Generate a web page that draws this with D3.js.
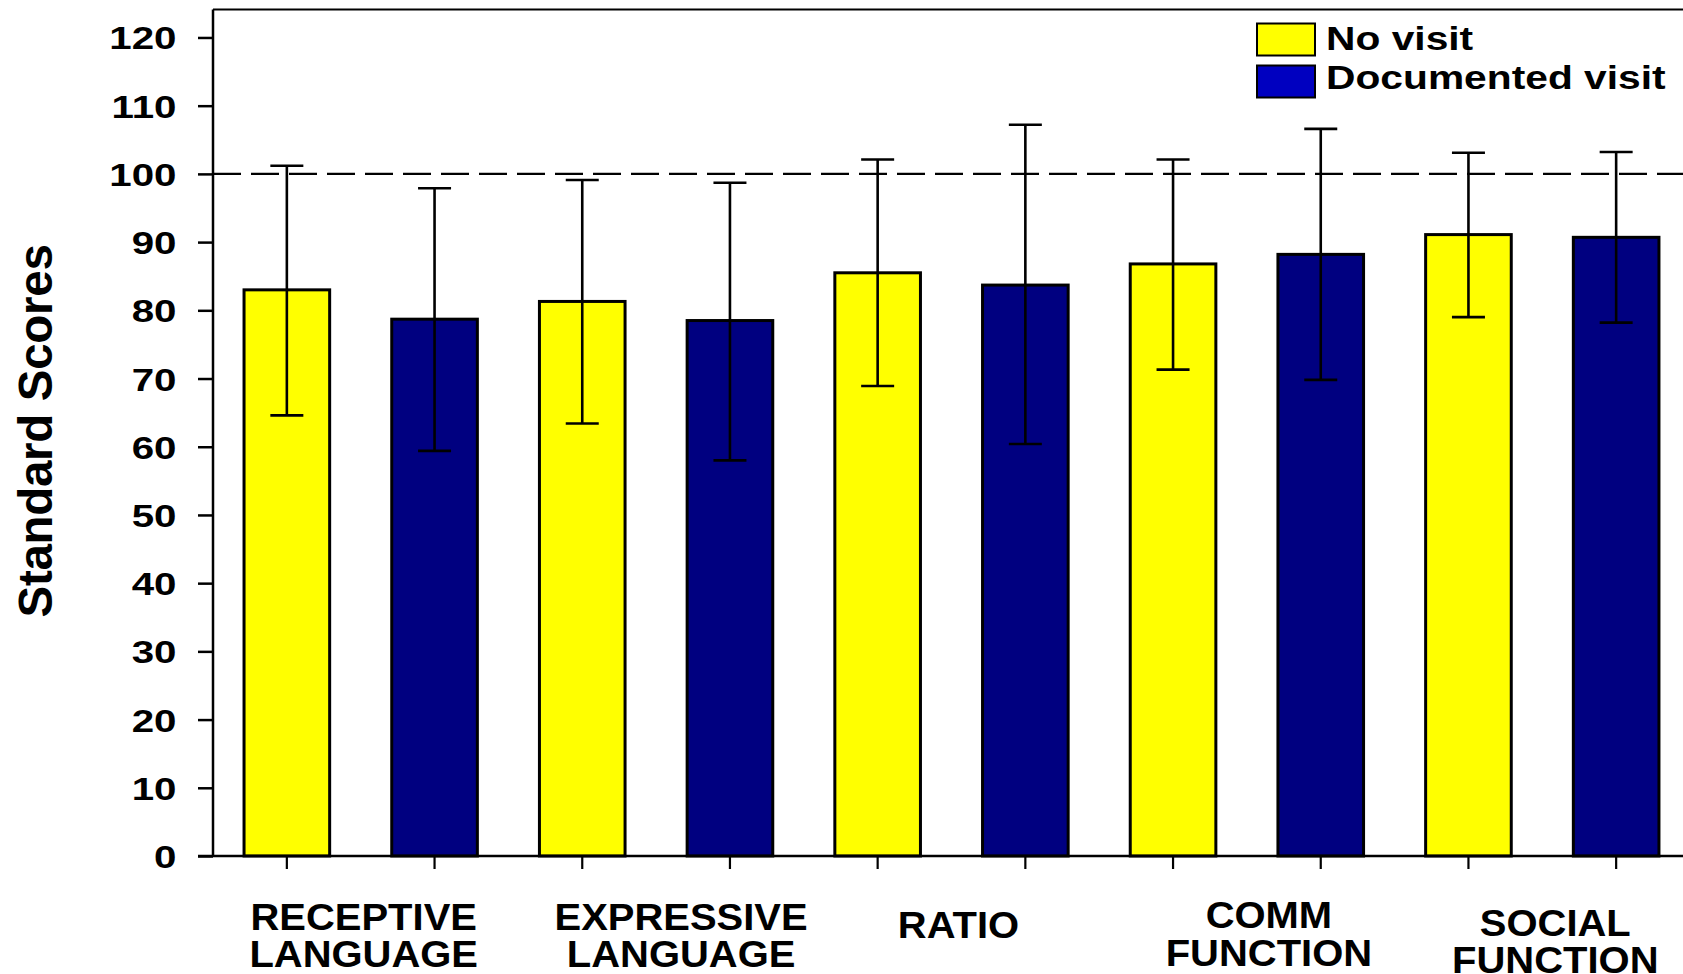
<!DOCTYPE html>
<html>
<head>
<meta charset="utf-8">
<script src="https://cdn.jsdelivr.net/npm/d3@7"></script>
<style>
  html, body { margin: 0; padding: 0; background: #fff; overflow: hidden; }
  svg { display: block; font-family: "Liberation Sans", Arial, Helvetica, sans-serif; font-weight: bold; }
</style>
</head>
<body>
<svg id="chart" width="1683" height="974"></svg>
<script>
// ---- data ----
const categories = [["RECEPTIVE", "LANGUAGE"], ["EXPRESSIVE", "LANGUAGE"], ["RATIO"], ["COMM", "FUNCTION"], ["SOCIAL", "FUNCTION"]];
const seriesNames = ["No visit", "Documented visit"];
const noVisitMean  = [83.0, 81.3, 85.5, 86.8, 91.1];
const noVisitUpper = [101.2, 99.1, 102.1, 102.1, 103.1];
const noVisitLower = [64.6, 63.4, 68.9, 71.3, 79.0];
const visitMean    = [78.7, 78.5, 83.7, 88.2, 90.7];
const visitUpper   = [97.9, 98.7, 107.2, 106.6, 103.2];
const visitLower   = [59.4, 58.0, 60.4, 69.8, 78.2];
const yTicks = [0, 10, 20, 30, 40, 50, 60, 70, 80, 90, 100, 110, 120];
const referenceLine = 100;

// ---- layout ----
const plotL = 213, plotR = 1690, plotT = 9.5, plotB = 856;
const labelNudge = [3, 25, 7, 22, 13];
const colors = ["#ffff00", "#000080"];
const legendColors = ["#ffff00", "#0000c0"];

const bars = [];
categories.forEach((c, i) => {
  bars.push({ id: i * 2,     s: 0, mean: noVisitMean[i], lo: noVisitLower[i], hi: noVisitUpper[i] });
  bars.push({ id: i * 2 + 1, s: 1, mean: visitMean[i],   lo: visitLower[i],   hi: visitUpper[i] });
});

const svg = d3.select("#chart");
const x = d3.scaleBand().domain(bars.map(d => d.id)).range([plotL, plotR]).paddingInner(0.4).paddingOuter(0.2);
const y = d3.scaleLinear().domain([0, 124.1]).range([plotB, plotT]);

// top border
svg.append("line").attr("x1", plotL).attr("x2", plotR).attr("y1", plotT).attr("y2", plotT)
  .attr("stroke", "#000").attr("stroke-width", 2);

// reference dashed line
svg.append("line").attr("x1", plotL).attr("x2", plotR).attr("y1", y(referenceLine)).attr("y2", y(referenceLine))
  .attr("stroke", "#000").attr("stroke-width", 2.2).attr("stroke-dasharray", "28,10");

// bars
svg.append("g").selectAll("rect").data(bars).join("rect")
  .attr("x", d => x(d.id) + 1.5)
  .attr("width", x.bandwidth() - 3)
  .attr("y", d => y(d.mean))
  .attr("height", d => y(0) - y(d.mean))
  .attr("fill", d => colors[d.s])
  .attr("stroke", "#000").attr("stroke-width", 3);

// error bars
const eb = svg.append("g").attr("stroke", "#000").attr("stroke-width", 2.6);
bars.forEach(d => {
  const cx = x(d.id) + x.bandwidth() / 2;
  eb.append("line").attr("x1", cx).attr("x2", cx).attr("y1", y(d.hi)).attr("y2", y(d.lo));
  eb.append("line").attr("x1", cx - 16.5).attr("x2", cx + 16.5).attr("y1", y(d.hi)).attr("y2", y(d.hi));
  eb.append("line").attr("x1", cx - 16.5).attr("x2", cx + 16.5).attr("y1", y(d.lo)).attr("y2", y(d.lo));
});

// y axis
const yAxis = svg.append("g").attr("transform", `translate(${plotL},0)`)
  .call(d3.axisLeft(y).tickValues(yTicks).tickSize(15).tickSizeOuter(0).tickFormat(d3.format("d")));
yAxis.select(".domain").attr("stroke", "#000").attr("stroke-width", 2.5).attr("d", `M0,${plotT}V${plotB + 1}`);
yAxis.selectAll(".tick line").attr("stroke", "#000").attr("stroke-width", 2.5);
yAxis.selectAll(".tick text")
  .attr("x", 0).attr("dy", "0.36em")
  .attr("transform", "translate(-36.5,0) scale(1.26,1)")
  .attr("text-anchor", "end")
  .attr("font-size", 32).attr("font-family", "Liberation Sans, Arial, sans-serif")
  .attr("font-weight", "bold").attr("fill", "#000");

// x axis
const xAxis = svg.append("g").attr("transform", `translate(0,${plotB})`)
  .call(d3.axisBottom(x).tickSize(13).tickSizeOuter(0).tickFormat(""));
xAxis.select(".domain").attr("stroke", "#000").attr("stroke-width", 2.5).attr("d", `M${plotL - 15},0H${plotR}`);
xAxis.selectAll(".tick line").attr("stroke", "#000").attr("stroke-width", 2.2);

// category labels
const lineBase = [[930, 967], [930, 967], [938], [928, 966], [936, 973]];
categories.forEach((lines, i) => {
  const cx = (x(i * 2) + x(i * 2 + 1) + x.bandwidth()) / 2 + labelNudge[i];
  lines.forEach((t, j) => {
    svg.append("text")
      .attr("transform", `translate(${cx},${lineBase[i][j]}) scale(1.08,1)`)
      .attr("text-anchor", "middle")
      .attr("font-size", 37).attr("fill", "#000")
      .text(t);
  });
});

// y title
svg.append("text")
  .attr("transform", "translate(52,431) rotate(-90)")
  .attr("text-anchor", "middle")
  .attr("font-size", 47.5).attr("letter-spacing", -0.3).attr("fill", "#000")
  .text("Standard Scores");

// legend
const lg = svg.append("g");
seriesNames.forEach((name, i) => {
  lg.append("rect").attr("x", 1257).attr("y", 23.5 + i * 42).attr("width", 58).attr("height", 32)
    .attr("fill", legendColors[i]).attr("stroke", "#000").attr("stroke-width", 2);
  lg.append("text").attr("transform", `translate(1326,${50 + i * 39}) scale(1.235,1)`)
    .attr("font-size", 33).attr("fill", "#000").text(name);
});
</script>
</body>
</html>
